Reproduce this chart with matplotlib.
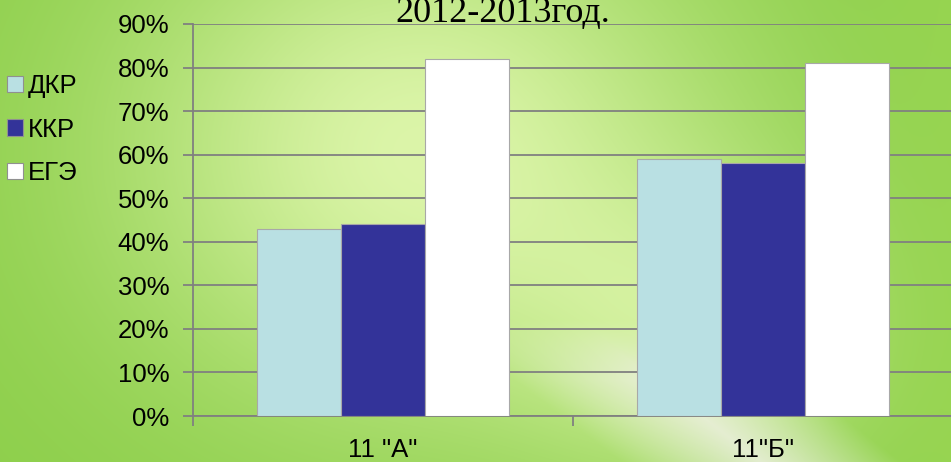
import numpy as np
import matplotlib
matplotlib.use("Agg")
import matplotlib.pyplot as plt
from matplotlib.patches import Patch

# data
groups = ['11 "А"', '11"Б"']
series = ["ДКР", "ККР", "ЕГЭ"]
dkr = [43, 59]
kkr = [44, 58]
ege = [82, 81]
colors = ["#b9e0e3", "#333399", "#ffffff"]
yticks = [0, 10, 20, 30, 40, 50, 60, 70, 80, 90]
title = "2012-2013год."

W, H = 951, 462


def make_background(w, h):
    """Soft green slide background with a light area and a pale diagonal band."""
    yy, xx = np.mgrid[0:h, 0:w].astype(float)
    base = np.array([0.55, 0.81, 0.29])
    light = np.array([0.86, 0.96, 0.66])
    white = np.array([0.93, 0.94, 0.88])
    # light glow across the upper middle
    glow = np.exp(-(((xx - 420) / 300) ** 2 + ((yy - 150) / 260) ** 2))
    glow2 = 0.6 * np.exp(-(((xx - 700) / 170) ** 2 + ((yy - 340) / 150) ** 2))
    g = np.clip(glow + glow2, 0, 1)[..., None]
    img = base * (1 - g) + light * g
    # right edge a bit greener
    edge = np.clip((xx - 820) / 130, 0, 1)[..., None] * 0.5
    img = img * (1 - edge) + np.array([0.62, 0.85, 0.33]) * edge
    # pale diagonal "page" at the bottom
    d = (xx - 470) - (yy - 330) * 1.3
    band = np.clip(1 - np.abs(d - 120) / 140, 0, 1) * np.clip((yy - 320) / 60, 0, 1)
    band = band[..., None] * 0.85
    img = img * (1 - band) + white * band
    return np.clip(img, 0, 1)


fig = plt.figure(figsize=(W / 100, H / 100), dpi=100)
bg = fig.add_axes([0, 0, 1, 1], zorder=0)
bg.imshow(make_background(W, H), aspect="auto", extent=[0, 1, 0, 1])
bg.axis("off")

ax = fig.add_axes([193 / W, 1 - 416 / H, (953 - 193) / W, (416 - 24) / H], zorder=1)
ax.patch.set_alpha(0)

x = np.arange(len(groups))
bw = 0.221
for i, (vals, c) in enumerate(zip([dkr, kkr, ege], colors)):
    ax.bar(x + (i - 1) * bw, vals, bw, color=c, edgecolor="#a8a8a8",
           linewidth=0.8, zorder=3)

ax.set_xlim(-0.5, 1.5)
ax.set_ylim(0, 90)
ax.set_yticks(yticks)
ax.set_yticklabels([f"{t}%" for t in yticks])
ax.yaxis.grid(True, color="#808080", linewidth=1.3, zorder=1)
ax.set_axisbelow(True)

ax.set_xticks(x)
ax.set_xticklabels(groups)
ax.set_xticks([-0.5, 0.5, 1.5], minor=True)
ax.tick_params(axis="x", which="major", length=0, pad=16, labelsize=18.5)
ax.tick_params(axis="x", which="minor", length=7, width=1.3, color="#808080",
               direction="out")
ax.tick_params(axis="y", length=7, width=1.3, color="#808080", pad=10,
               labelsize=18.5)
for lab in ax.get_xticklabels() + ax.get_yticklabels():
    lab.set_fontfamily(["Liberation Sans", "DejaVu Sans"])

for s in ["top", "right"]:
    ax.spines[s].set_visible(False)
for s in ["left", "bottom"]:
    ax.spines[s].set_color("#808080")
    ax.spines[s].set_linewidth(1.3)

handles = [Patch(facecolor=c, edgecolor="#909090", linewidth=0.8) for c in colors]
fig.legend(handles, series, loc="upper left", bbox_to_anchor=(-0.003, 1 - 64 / H),
           frameon=False, handlelength=0.6, handleheight=0.6, handletextpad=0.2,
           labelspacing=0.75, borderaxespad=0.0,
           prop={"family": ["Liberation Sans", "DejaVu Sans"], "size": 18.5})

fig.text(503 / W, 1 - 22 / H, title, ha="center", va="baseline",
         family=["Liberation Serif", "DejaVu Serif"], fontsize=26)

fig.savefig("out.png", dpi=100)
